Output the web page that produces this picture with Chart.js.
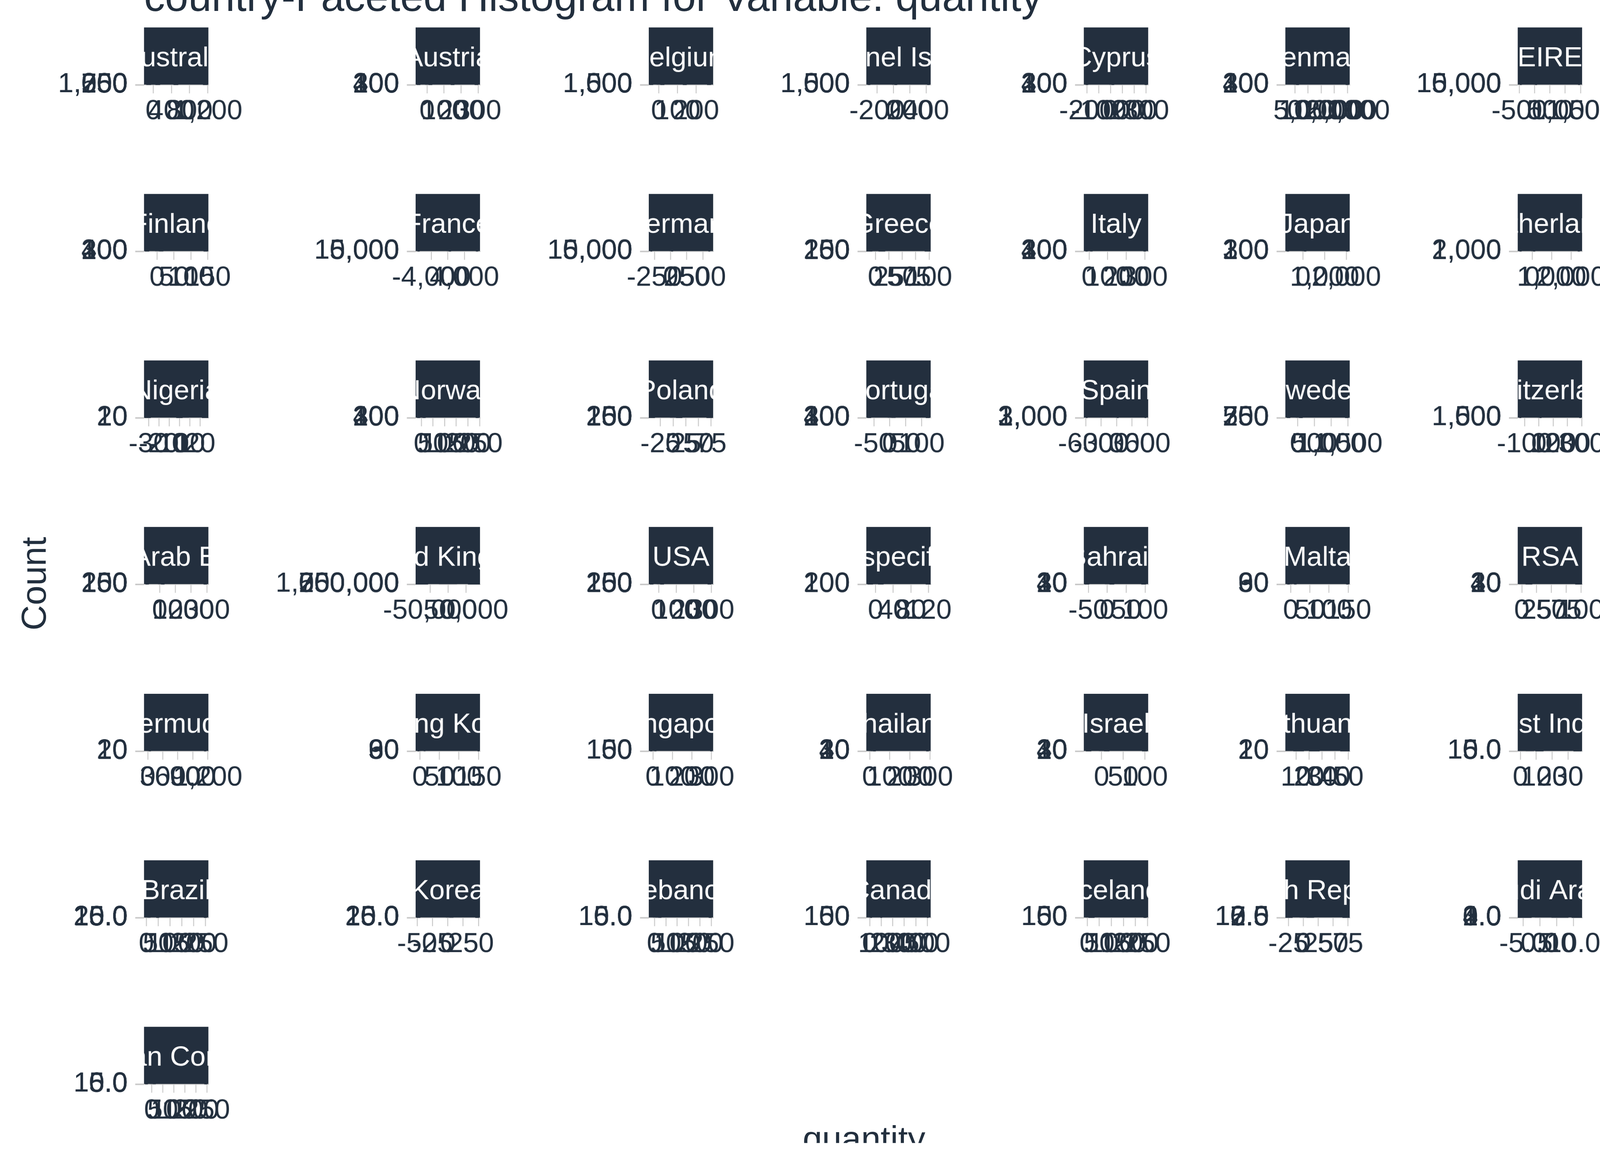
<!DOCTYPE html>
<html>
<head>
<meta charset="utf-8">
<title>country-Faceted Histogram for Variable: quantity</title>
<script src="https://cdn.jsdelivr.net/npm/chart.js@4.4.1/dist/chart.umd.min.js"></script>
<style>
html, body { margin: 0; padding: 0; background: #ffffff; overflow: hidden; }
#page { position: relative; width: 4200px; height: 3000px; overflow: hidden; background: #ffffff;
        font-family: 'Liberation Sans', Arial, sans-serif; color: #222f3e; transform-origin: 0 0; }
#page canvas { position: absolute; }
.lbl { position: absolute; white-space: nowrap; }
#title { left: 378px; top: -64px; font-size: 110px; line-height: 110px; }
#ylab { left: -112px; top: 1486px; width: 400px; text-align: center; font-size: 92px; line-height: 92px; transform: rotate(-90deg); }
#xlab { left: 1868px; top: 2942px; width: 800px; text-align: center; font-size: 92px; line-height: 92px; }
</style>
</head>
<body>
<div id="page">
  <div class="lbl" id="title">country-Faceted Histogram for Variable: quantity</div>
  <div class="lbl" id="ylab">Count</div>
  <div class="lbl" id="xlab">quantity</div>
</div>
<script>
// facet order, row by row (7 per row)
const countries = [
    'Australia', 'Austria', 'Belgium', 'Channel Islands', 'Cyprus', 'Denmark', 'EIRE',
    'Finland', 'France', 'Germany', 'Greece', 'Italy', 'Japan', 'Netherlands',
    'Nigeria', 'Norway', 'Poland', 'Portugal', 'Spain', 'Sweden', 'Switzerland',
    'United Arab Emirates', 'United Kingdom', 'USA', 'Unspecified', 'Bahrain', 'Malta', 'RSA',
    'Bermuda', 'Hong Kong', 'Singapore', 'Thailand', 'Israel', 'Lithuania', 'West Indies',
    'Brazil', 'Korea', 'Lebanon', 'Canada', 'Iceland', 'Czech Republic', 'Saudi Arabia',
    'European Community'
];

// free x range of each panel (quantity)
const xRange = [
    [-203, 1217], [-67, 311], [-53, 292], [-332, 457], [-226, 319], [-3650, 20876], [-550, 1550],
    [-39, 152], [-7770, 7770], [-339, 660], [-17, 103], [-29, 319], [-814, 2159], [-745, 2569],
    [-34.5, 28.2], [-24.5, 252], [-48, 79], [-74, 129], [-637, 615], [-366, 1557], [-148, 303],
    [-100, 310], [-90400, 89400], [-56, 311], [-21, 125], [-62, 108], [-14, 154], [-7, 102],
    [-77, 1215], [-11, 154], [-22, 310], [-17, 304], [-41, 108], [1.8, 51.2], [-1.7, 38.9],
    [-10, 263], [-52.5, 52.5], [-25, 258], [-30, 530], [-14, 253], [-30, 78], [-6.6, 12.6],
    [-35, 257]
];

const xTicks = [
    [0, 400, 800, 1200], [0, 100, 200, 300], [0, 100, 200], [-200, 0, 200, 400],
    [-200, -100, 0, 100, 200, 300], [0, 5000, 10000, 15000, 20000], [-500, 0, 500, 1000, 1500],
    [0, 50, 100, 150], [-4000, 0, 4000], [-250, 0, 250, 500], [0, 25, 50, 75, 100],
    [0, 100, 200, 300], [0, 1000, 2000], [0, 1000, 2000],
    [-30, -20, -10, 0, 10, 20], [0, 50, 100, 150, 200, 250], [-25, 0, 25, 50, 75], [-50, 0, 50, 100],
    [-600, -300, 0, 300, 600], [0, 500, 1000, 1500], [-100, 0, 100, 200, 300],
    [0, 100, 200, 300], [-50000, 0, 50000], [0, 100, 200, 300], [0, 40, 80, 120],
    [-50, 0, 50, 100], [0, 50, 100, 150], [0, 25, 50, 75, 100],
    [0, 300, 600, 900, 1200], [0, 50, 100, 150], [0, 100, 200, 300], [0, 100, 200, 300],
    [0, 50, 100], [10, 20, 30, 40, 50], [0, 10, 20, 30],
    [0, 50, 100, 150, 200, 250], [-50, -25, 0, 25, 50], [0, 50, 100, 150, 200, 250],
    [0, 100, 200, 300, 400, 500], [0, 50, 100, 150, 200, 250], [-25, 0, 25, 50, 75], [-5, 0, 5, 10],
    [0, 50, 100, 150, 200, 250]
];

const yTicks = [
    [0, 250, 500, 750, 1000, 1250], [0, 100, 200, 300, 400], [0, 500, 1000, 1500], [0, 500, 1000, 1500],
    [0, 100, 200, 300, 400], [0, 100, 200, 300, 400], [0, 5000, 10000, 15000],
    [0, 100, 200, 300, 400], [0, 5000, 10000, 15000], [0, 5000, 10000, 15000], [0, 50, 100, 150, 200, 250],
    [0, 100, 200, 300, 400], [0, 100, 200, 300], [0, 1000, 2000],
    [0, 10, 20], [0, 100, 200, 300, 400], [0, 50, 100, 150, 200, 250], [0, 100, 200, 300, 400],
    [0, 1000, 2000, 3000], [0, 250, 500, 750], [0, 500, 1000, 1500],
    [0, 50, 100, 150, 200, 250], [0, 250000, 500000, 750000, 1000000], [0, 50, 100, 150, 200, 250],
    [0, 100, 200], [0, 10, 20, 30, 40], [0, 30, 60, 90], [0, 10, 20, 30, 40],
    [0, 10, 20], [0, 30, 60, 90], [0, 50, 100, 150], [0, 10, 20, 30, 40], [0, 10, 20, 30, 40],
    [0, 10, 20], [0, 5, 10, 15],
    [0, 5, 10, 15, 20, 25], [0, 5, 10, 15, 20, 25], [0, 5, 10, 15], [0, 50, 100, 150], [0, 50, 100, 150],
    [0, 2.5, 5, 7.5, 10, 12.5], [0, 1, 2, 3, 4],
    [0, 5, 10, 15]
];

// decimals shown on the tick labels
const xDec = [0,0,0,0,0,0,0, 0,0,0,0,0,0,0, 0,0,0,0,0,0,0, 0,0,0,0,0,0,0, 0,0,0,0,0,0,0, 0,0,0,0,0,0,1, 0];
const yDec = [0,0,0,0,0,0,0, 0,0,0,0,0,0,0, 0,0,0,0,0,0,0, 0,0,0,0,0,0,0, 0,0,0,0,0,0,1, 1,1,1,0,0,1,1, 1];

// histogram bins (mid point) and counts per country
const binMid = [
    [-100, 0, 100, 500, 1150], [-50, 0, 20, 150, 290], [-40, 0, 20, 140, 270], [-300, 0, 30, 430],
    [-200, 0, 20, 300], [0, 1000, 19900], [-450, 0, 50, 1450],
    [-30, 0, 12, 144], [-7060, 0, 500, 7060], [-300, 0, 24, 600], [-12, 0, 12, 98],
    [-14, 0, 12, 300], [-700, 0, 100, 2040], [-600, 0, 100, 2400],
    [-31, 0, 6, 25], [-12, 0, 12, 240], [-42, 0, 12, 72], [-65, 0, 12, 120],
    [-580, 0, 24, 560], [-270, 0, 100, 1470], [-130, 0, 12, 290],
    [-80, 0, 20, 290], [-80995, 0, 80995], [-40, 0, 20, 290], [-12, 0, 12, 120],
    [-54, 0, 12, 96], [-6, 0, 12, 148], [1, 12, 96],
    [0, 40, 1150], [-4, 0, 12, 150], [-10, 0, 12, 300], [0, 12, 24, 288],
    [-30, 0, 12, 100], [4, 12, 24, 48], [1, 6, 12, 36],
    [1, 12, 48, 250], [-48, 0, 6, 48], [0, 12, 24, 245], [0, 12, 100, 504],
    [0, 12, 24, 240], [-24, 0, 12, 72], [-5, 1, 6, 12],
    [-24, 0, 12, 245]
];
const binCount = [
    [12, 1280, 45, 4, 2], [2, 380, 15, 3, 1], [3, 1540, 400, 20, 2], [1, 1560, 180, 2],
    [1, 410, 160, 1], [420, 5, 1], [4, 15800, 1200, 2],
    [2, 410, 250, 1], [1, 15900, 210, 1], [2, 15500, 1800, 1], [1, 240, 60, 1],
    [3, 410, 200, 1], [1, 310, 30, 1], [2, 2050, 300, 1],
    [1, 5, 22, 1], [2, 410, 180, 1], [1, 260, 90, 2], [1, 420, 300, 2],
    [1, 3050, 400, 1], [1, 780, 200, 1], [2, 1540, 600, 1],
    [1, 250, 60, 1], [1, 980000, 1], [2, 260, 50, 1], [1, 210, 80, 1],
    [1, 42, 10, 1], [1, 92, 40, 1], [42, 15, 1],
    [22, 10, 1], [1, 95, 60, 1], [2, 160, 80, 1], [42, 30, 10, 1],
    [1, 42, 20, 1], [22, 10, 8, 3], [16, 12, 6, 2],
    [26, 20, 6, 1], [1, 26, 20, 1], [16, 14, 8, 1], [155, 40, 5, 1],
    [155, 50, 20, 1], [1, 13, 8, 1], [1, 4, 2, 1],
    [1, 16, 10, 1]
];

// layout of the facet grid
const colLeft = [378, 1091, 1703, 2274, 2845, 3374, 3984];
const rowAxis = [223, 660, 1097, 1534, 1972, 2409, 2846];
const PW = 169, LW = 378, RW = 170, TOPH = 160, BOTH = 130, STRIPH = 151;
const TEXT = '#222f3e', STRIP = '#232f3e', TICK = '#c9c9c9';

// the page is drawn for 4200 px; shrink it if the viewport is narrower
const page = document.getElementById('page');
const fitScale = (window.innerWidth || 4200) / 4200;
if (Math.abs(fitScale - 1) > 0.002) {
    page.style.transform = 'scale(' + fitScale + ')';
    document.body.style.width = (4200 * fitScale) + 'px';
    document.body.style.height = (3000 * fitScale) + 'px';
}

Chart.defaults.font.family = "'Liberation Sans', Arial, sans-serif";
Chart.defaults.color = TEXT;

function fmt(v, d) {
    return Number(v).toLocaleString('en-US', { minimumFractionDigits: d, maximumFractionDigits: d });
}

// facet strip on top of each (flat) panel
const stripPlugin = {
    id: 'strip',
    afterDraw(chart, args, opts) {
        const ctx = chart.ctx, a = chart.chartArea;
        const top = a.bottom - STRIPH;
        ctx.save();
        ctx.fillStyle = STRIP;
        ctx.fillRect(a.left, top, a.right - a.left, STRIPH - 1);
        ctx.beginPath();
        ctx.rect(a.left, top, a.right - a.left, STRIPH);
        ctx.clip();
        ctx.fillStyle = '#ffffff';
        ctx.font = "73px 'Liberation Sans', Arial, sans-serif";
        ctx.textAlign = 'center';
        ctx.textBaseline = 'alphabetic';
        ctx.fillText(opts.label, (a.left + a.right) / 2, top + STRIPH / 2 + 26);
        ctx.restore();
    }
};

for (let i = 0; i < countries.length; i++) {
    let r = Math.floor(i / 7), c = i % 7;
    let cv = document.createElement('canvas');
    cv.width = LW + PW + RW;
    cv.height = TOPH + 1 + BOTH;
    cv.style.left = (colLeft[c] - LW) + 'px';
    cv.style.top = (rowAxis[r] - TOPH - 1) + 'px';
    page.appendChild(cv);

    let yt = yTicks[i];
    new Chart(cv.getContext('2d'), {
        type: 'bar',
        data: {
            datasets: [{
                data: binMid[i].map((x, j) => ({ x: x, y: binCount[i][j] })),
                backgroundColor: STRIP,
                barPercentage: 1,
                categoryPercentage: 1
            }]
        },
        options: {
            responsive: false,
            animation: false,
            devicePixelRatio: 1,
            events: [],
            layout: { padding: { left: 0, right: RW, top: TOPH, bottom: 0 } },
            plugins: {
                legend: { display: false },
                tooltip: { enabled: false },
                strip: { label: countries[i] }
            },
            scales: {
                x: {
                    type: 'linear',
                    offset: false,
                    min: xRange[i][0],
                    max: xRange[i][1],
                    afterBuildTicks: (s) => { s.ticks = xTicks[i].map(v => ({ value: v })); },
                    afterFit: (s) => { s.height = BOTH; },
                    ticks: {
                        autoSkip: false, maxRotation: 0, minRotation: 0, padding: 4,
                        color: TEXT, font: { size: 73 },
                        callback: (v) => fmt(v, xDec[i])
                    },
                    grid: { offset: false, drawOnChartArea: false, drawTicks: true, tickLength: 22, color: TICK, lineWidth: 2.5 },
                    border: { display: true, color: TICK, width: 2 }
                },
                y: {
                    type: 'linear',
                    min: 0,
                    max: yt[yt.length - 1],
                    afterBuildTicks: (s) => { s.ticks = yTicks[i].map(v => ({ value: v })); },
                    afterFit: (s) => { s.width = LW; },
                    ticks: {
                        autoSkip: false, padding: 20,
                        color: TEXT, font: { size: 73 },
                        callback: (v) => fmt(v, yDec[i])
                    },
                    grid: { drawOnChartArea: false, drawTicks: true, tickLength: 23, color: TICK, lineWidth: 3 },
                    border: { display: false }
                }
            }
        },
        plugins: [stripPlugin]
    });
}
</script>
</body>
</html>
